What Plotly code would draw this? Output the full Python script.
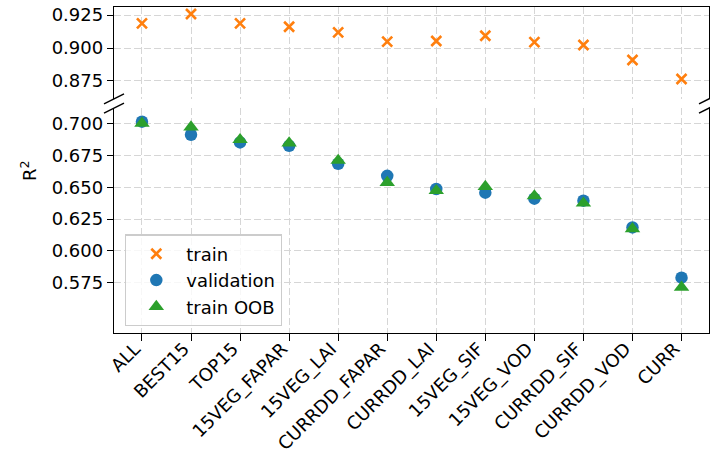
import plotly.graph_objects as go

categories = ["ALL", "BEST15", "TOP15", "15VEG_FAPAR", "15VEG_LAI", "CURRDD_FAPAR",
              "CURRDD_LAI", "15VEG_SIF", "15VEG_VOD", "CURRDD_SIF", "CURRDD_VOD", "CURR"]
train = [0.9187, 0.9258, 0.9187, 0.9161, 0.9119, 0.9048,
         0.9053, 0.9093, 0.9045, 0.9023, 0.8909, 0.8765]
validation = [0.7016, 0.6913, 0.6853, 0.6826, 0.6685, 0.6590,
              0.6487, 0.6458, 0.6411, 0.6395, 0.6185, 0.5790]
train_oob = [0.7003, 0.6974, 0.6874, 0.6848, 0.6711, 0.6537,
             0.6474, 0.6506, 0.6432, 0.6375, 0.6174, 0.5714]
top_ticks = [0.875, 0.900, 0.925]
bottom_ticks = [0.575, 0.600, 0.625, 0.650, 0.675, 0.700]

FONT = "DejaVu Sans"
FS = 18
GRID = "#d6d6d6"
DASH = "7px,3px"

fig = go.Figure()
fig.add_trace(go.Scatter(
    x=categories, y=train, mode="markers", name="train",
    xaxis="x2", yaxis="y2", legendgroup="a",
    marker=dict(symbol="x-thin", size=10, color="#ff7f0e",
                line=dict(color="#ff7f0e", width=2.6))))
fig.add_trace(go.Scatter(
    x=categories, y=validation, mode="markers", name="validation",
    xaxis="x", yaxis="y", legendgroup="b",
    marker=dict(symbol="circle", size=12.5, color="#1f77b4", line=dict(width=0))))
fig.add_trace(go.Scatter(
    x=categories, y=train_oob, mode="markers", name="train OOB",
    xaxis="x", yaxis="y", legendgroup="c",
    marker=dict(symbol="triangle-up", size=13.5, color="#2ca02c", line=dict(width=0))))

n = len(categories)
xr = [-0.57, n - 1 + 0.56]

common_x = dict(type="category", categoryorder="array", categoryarray=categories,
                range=xr, showgrid=True, gridcolor=GRID, griddash=DASH, gridwidth=1.2,
                zeroline=False, linecolor="black", linewidth=1.4, automargin=False)
common_y = dict(showgrid=True, gridcolor=GRID, griddash=DASH, gridwidth=1.2,
                zeroline=False, linecolor="black", linewidth=1.4, showline=True,
                mirror=True, ticks="outside", ticklen=6, tickwidth=1.4,
                tickcolor="black", tickformat=".3f", automargin=False,
                tickfont=dict(family=FONT, size=FS, color="black"))

ytop0, ybot1 = 0.718, 0.690

fig.update_layout(
    width=710, height=457,
    margin=dict(l=114, r=1, t=7, b=124, autoexpand=False),
    paper_bgcolor="white", plot_bgcolor="white",
    font=dict(family=FONT, size=FS, color="black"),
    xaxis=dict(common_x, showline=True, side="bottom", ticks="outside", ticklen=7,
               tickwidth=1.4, tickcolor="black", tickangle=-45,
               ticklabelshift=-7, ticklabelstandoff=-10,
               tickfont=dict(family=FONT, size=FS, color="black"),
               anchor="y"),
    xaxis2=dict(common_x, showline=True, side="top", ticks="", showticklabels=False,
                anchor="y2", matches="x"),
    yaxis=dict(common_y, domain=[0, ybot1], range=[0.5355, 0.7123],
               tickvals=bottom_ticks, anchor="x"),
    yaxis2=dict(common_y, domain=[ytop0, 1], range=[0.8614, 0.9311],
                tickvals=top_ticks, anchor="x2"),
    showlegend=True,
    legend=dict(x=0.0185, y=0.303, xanchor="left", yanchor="top",
                bgcolor="rgba(255,255,255,0.8)", bordercolor="#cccccc", borderwidth=1.3,
                font=dict(family=FONT, size=FS, color="black"),
                tracegroupgap=0, itemwidth=50),
    annotations=[dict(text="R<sup>2</sup>", xref="paper", yref="paper",
                      x=-0.143, y=0.5, xanchor="center", yanchor="middle",
                      textangle=-90, showarrow=False,
                      font=dict(family=FONT, size=FS, color="black"))],
)

# broken-axis diagonal marks
dx, dy = 0.0168, 0.0153
shapes = []
for xc in (0, 1):
    for yc in (ytop0, ybot1):
        shapes.append(dict(type="line", xref="paper", yref="paper",
                           x0=xc - dx, y0=yc - dy, x1=xc + dx, y1=yc + dy,
                           line=dict(color="black", width=1.5)))
fig.update_layout(shapes=shapes)

fig.write_html("out.html",
               config={"displayModeBar": False},
               post_script="document.body.style.margin='0';"
                           "document.body.style.overflow='hidden';")
